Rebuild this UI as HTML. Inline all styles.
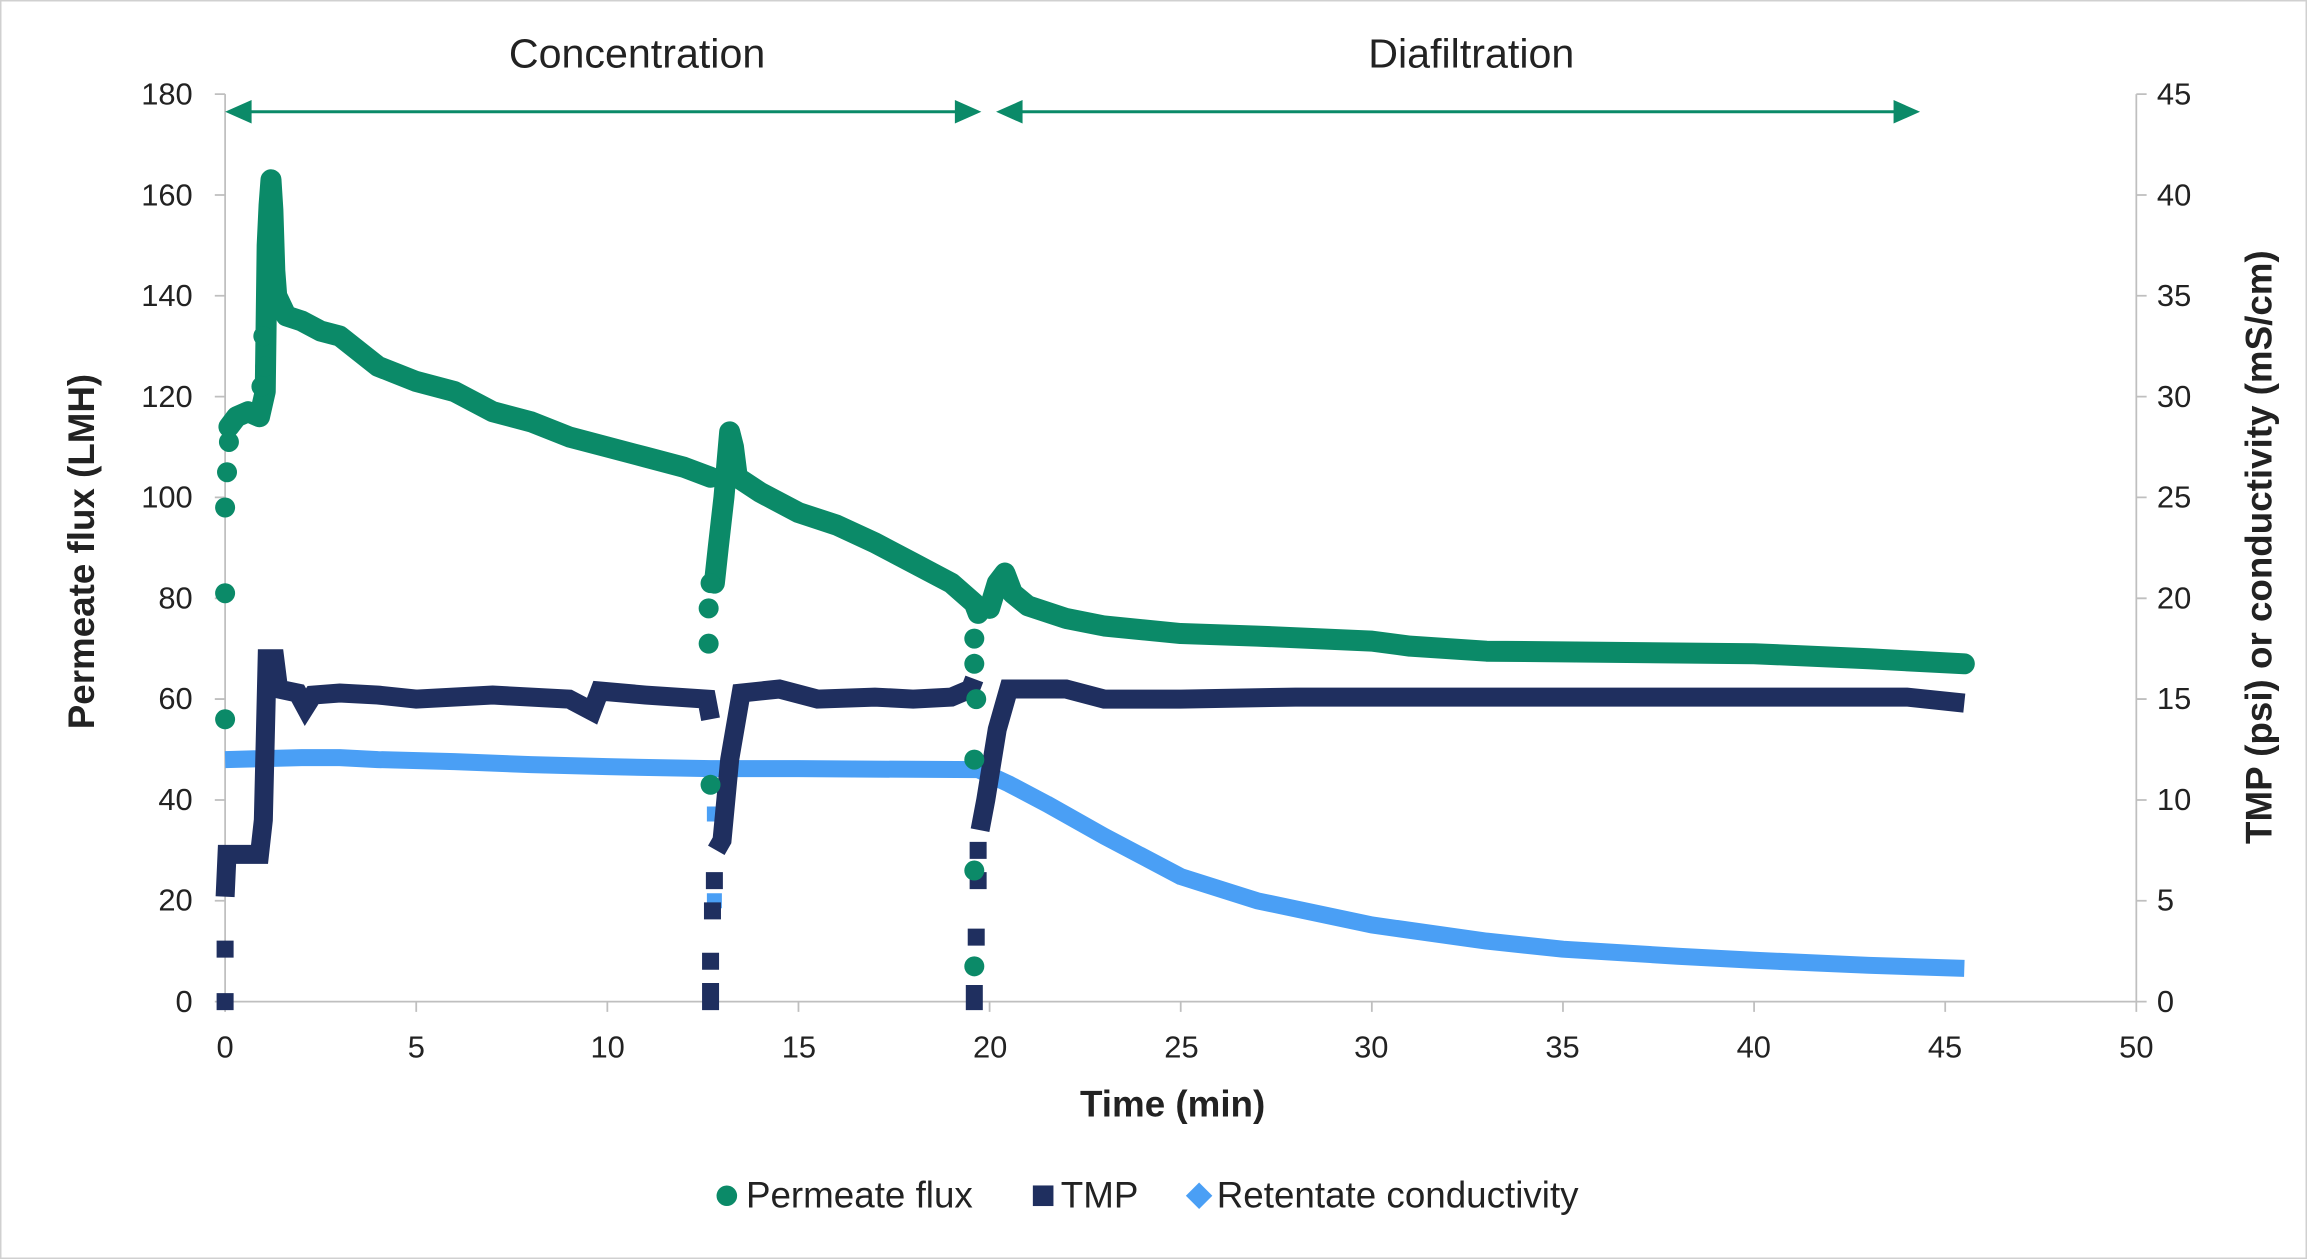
<!DOCTYPE html>
<html><head><meta charset="utf-8"><style>
html,body{margin:0;padding:0;background:#fff}
svg{display:block}
text{font-family:"Liberation Sans",sans-serif;fill:#222}
</style></head><body>
<svg width="2307" height="1259" viewBox="0 0 1568 856" preserveAspectRatio="none" xmlns="http://www.w3.org/2000/svg">
<rect x="0.5" y="0.5" width="1567" height="855" fill="#fff" stroke="#d0d0d0" stroke-width="1"/>
<g stroke="#bfbfbf" stroke-width="1.2" fill="none">
<line x1="153" y1="64" x2="153" y2="681"/>
<line x1="153" y1="681" x2="1452" y2="681"/>
<line x1="1452" y1="64" x2="1452" y2="681"/>
<path d="M146 64H153M146 132.6H153M146 201.1H153M146 269.7H153M146 338.2H153M146 406.8H153M146 475.3H153M146 543.9H153M146 612.4H153M146 681H153"/>
<path d="M1452 64H1459M1452 132.6H1459M1452 201.1H1459M1452 269.7H1459M1452 338.2H1459M1452 406.8H1459M1452 475.3H1459M1452 543.9H1459M1452 612.4H1459M1452 681H1459"/>
<path d="M153 681V688M282.9 681V688M412.8 681V688M542.7 681V688M672.6 681V688M802.5 681V688M932.4 681V688M1062.3 681V688M1192.2 681V688M1322.1 681V688M1452 681V688"/>
</g>
<g font-size="21" text-anchor="end">
<text x="131" y="71">180</text><text x="131" y="139.6">160</text><text x="131" y="208">140</text><text x="131" y="276.6">120</text><text x="131" y="345">100</text><text x="131" y="413.6">80</text><text x="131" y="482">60</text><text x="131" y="550.7">40</text><text x="131" y="619.2">20</text><text x="131" y="688">0</text>
</g>
<g font-size="21" text-anchor="start">
<text x="1466" y="71">45</text><text x="1466" y="139.6">40</text><text x="1466" y="208">35</text><text x="1466" y="276.6">30</text><text x="1466" y="345">25</text><text x="1466" y="413.6">20</text><text x="1466" y="482">15</text><text x="1466" y="550.7">10</text><text x="1466" y="619.2">5</text><text x="1466" y="688">0</text>
</g>
<g font-size="21" text-anchor="middle">
<text x="153" y="719">0</text><text x="283" y="719">5</text><text x="413" y="719">10</text><text x="543" y="719">15</text><text x="673" y="719">20</text><text x="803" y="719">25</text><text x="932" y="719">30</text><text x="1062" y="719">35</text><text x="1192" y="719">40</text><text x="1322" y="719">45</text><text x="1452" y="719">50</text>
</g>
<text x="797" y="759" font-size="25" font-weight="bold" text-anchor="middle">Time (min)</text>
<text transform="translate(64,375) rotate(-90)" font-size="25" font-weight="bold" text-anchor="middle">Permeate flux (LMH)</text>
<text transform="translate(1544,372) rotate(-90)" font-size="25" font-weight="bold" text-anchor="middle">TMP (psi) or conductivity (mS/cm)</text>
<text x="433" y="46" font-size="28" text-anchor="middle">Concentration</text>
<text x="1000" y="46" font-size="28" text-anchor="middle">Diafiltration</text>
<g stroke="#0b8a68" stroke-width="2" fill="#0b8a68">
<line x1="160" y1="76" x2="660" y2="76"/>
<line x1="684" y1="76" x2="1298" y2="76"/>
</g>
<g fill="#0b8a68">
<path d="M153 76L171 68L171 84Z"/><path d="M667 76L649 68L649 84Z"/>
<path d="M677 76L695 68L695 84Z"/><path d="M1305 76L1287 68L1287 84Z"/>
</g>
<g transform="translate(153,681) scale(25.98,-13.712)" fill="none" stroke="#4a9ff5">
<path vector-effect="non-scaling-stroke" stroke-width="17" stroke-linejoin="round" d="M0 12 L1 12.05 L2 12.1 L3 12.1 L4 12 L6 11.9 L8 11.75 L10 11.65 L12.7 11.55 L15 11.55 L19.7 11.5 L20.5 10.8 L21.5 9.8 L23 8.2 L25 6.2 L27 5.0 L30 3.8 L33 3.0 L35 2.6 L38 2.25 L40 2.05 L43 1.8 L45.5 1.65"/>
<path vector-effect="non-scaling-stroke" stroke-width="15" stroke-linecap="square" d="M12.8 9.3l0 0M12.8 5l0 0"/>
</g>
<g transform="translate(153,681) scale(25.98,-13.712)" fill="none" stroke="#1f2f5f">
<path vector-effect="non-scaling-stroke" stroke-width="19" stroke-linejoin="miter" d="M0 5.2 L0.05 7.3 L0.9 7.3 L1.0 9 L1.05 13 L1.1 17 L1.3 17 L1.4 15.5 L1.9 15.3 L2.1 14.6 L2.3 15.2 L3 15.3 L4 15.2 L5 15 L7 15.2 L9 15 L9.6 14.4 L9.8 15.4 L11 15.2 L12.6 15 L12.7 14 M12.85 7.5 L13.0 8 L13.2 12 L13.5 15.3 L14.5 15.5 L15.5 15 L17 15.1 L18 15 L19 15.1 L19.5 15.5 L19.6 16 M19.75 8.5 L19.9 10 L20.2 13.5 L20.5 15.5 L22 15.5 L23 15 L25 15 L28 15.1 L35 15.1 L44 15.1 L45.5 14.8"/>
<path vector-effect="non-scaling-stroke" stroke-width="17" stroke-linecap="square" d="M0 0l0 0M0 2.6l0 0M12.7 0l0 0M12.7 0.5l0 0M12.7 2l0 0M12.75 4.5l0 0M12.8 6l0 0M19.6 0l0 0M19.6 0.4l0 0M19.65 3.2l0 0M19.7 6l0 0M19.7 7.5l0 0"/>
</g>
<g transform="translate(153,681) scale(25.98,-3.428)" fill="none" stroke="#0b8a68">
<path vector-effect="non-scaling-stroke" stroke-width="21" stroke-linejoin="round" stroke-linecap="round" d="M0.1 114 L0.3 116 L0.6 117 L0.9 116 L1.05 121 L1.1 150 L1.15 158 L1.2 163 L1.25 157 L1.3 145 L1.35 140 L1.6 136 L2 135 L2.5 133 L3 132 L4 126 L5 123 L6 121 L7 117 L8 115 L9 112 L10 110 L11 108 L12 106 L12.7 104 M12.8 83 L12.9 90 L13.05 100 L13.2 113 L13.3 110 L13.4 104 L14 101 L15 97 L16 94.5 L17 91 L18 87 L19 83 L19.6 79 L19.7 77 M20 78 L20.2 83 L20.4 85 L20.6 81 L21 78.5 L22 76 L23 74.5 L25 73 L27 72.5 L30 71.5 L31 70.5 L33 69.5 L36 69.3 L40 69 L43 68 L45.5 67"/>
<path vector-effect="non-scaling-stroke" stroke-width="20" stroke-linecap="round" d="M0 56l0 0M0 81l0 0M0 98l0 0M0.05 105l0 0M0.1 111l0 0M1.05 126l0 0M1.0 132l0 0M0.95 122l0 0M12.65 71l0 0M12.65 78l0 0M12.7 83l0 0M12.7 43l0 0M19.6 72l0 0M19.6 67l0 0M19.65 60l0 0M19.6 48l0 0M19.6 26l0 0M19.6 7l0 0"/>
</g>
<circle cx="494" cy="813" r="7" fill="#0b8a68"/>
<text x="507" y="821" font-size="25">Permeate flux</text>
<rect x="702" y="806" width="14" height="14" fill="#1f2f5f"/>
<text x="721" y="821" font-size="25">TMP</text>
<path d="M815 804L824 813L815 822L806 813Z" fill="#4a9ff5"/>
<text x="827" y="821" font-size="25">Retentate conductivity</text>
</svg>
</body></html>
